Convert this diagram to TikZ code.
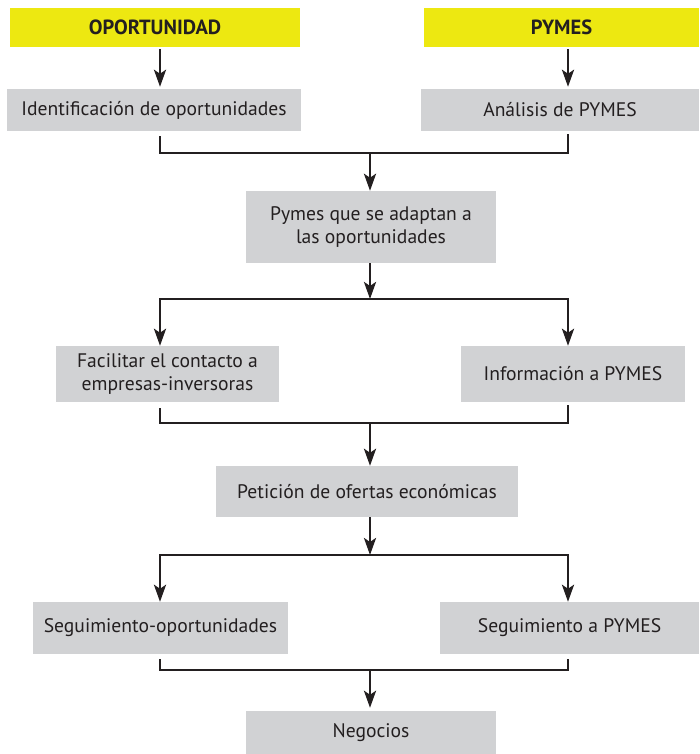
\documentclass[tikz,border=0pt]{standalone}
\usepackage{fontspec}
\setmainfont{PT Sans}
\usetikzlibrary{arrows.meta,positioning}
\definecolor{flowyellow}{RGB}{237,232,17}
\definecolor{flowgray}{RGB}{209,210,212}
\definecolor{flowink}{RGB}{35,31,32}

\begin{document}
\begin{tikzpicture}[x=1pt,y=-1pt,
    stepbox/.style={fill=flowgray,text=flowink,inner sep=0pt,align=center,
      font=\fontsize{19.6}{22.5}\selectfont},
    headbox/.style={fill=flowyellow,text=flowink,inner sep=0pt,
      font=\fontsize{20.5}{22}\selectfont\bfseries},
    link/.style={draw=flowink,line width=2.8pt},
    flow/.style={link,-{Stealth[length=17pt,width=12pt,inset=4pt]}}]
  \useasboundingbox (0,0) rectangle (699,754);
  \coordinate (L) at (160,0);
  \coordinate (R) at (568,0);

  \node[headbox,minimum width=290pt,minimum height=39pt] (oport) at (155,27.5) {OPORTUNIDAD};
  \node[headbox,minimum width=275pt,minimum height=39pt] (pymes) at (561.5,27.5) {PYMES};
  \node[stepbox,minimum width=294pt,minimum height=42pt] (ident) at (154,110) {Identificación de oportunidades};
  \node[stepbox,minimum width=278pt,minimum height=42pt] (anal) at (560,110) {Análisis de PYMES};
  \node[stepbox,minimum width=250pt,minimum height=72pt] (adapt) at (371,227) {Pymes que se adaptan a\\las oportunidades};
  \node[stepbox,minimum width=223pt,minimum height=56pt] (facil) at (167.5,374) {Facilitar el contacto a\\empresas-inversoras};
  \node[stepbox,minimum width=224pt,minimum height=56pt] (info) at (573,374) {Información a PYMES};
  \node[stepbox,minimum width=302pt,minimum height=51pt] (pet) at (367,491.5) {Petición de ofertas económicas};
  \node[stepbox,minimum width=255pt,minimum height=52pt] (segop) at (160.5,628) {Seguimiento-oportunidades};
  \node[stepbox,minimum width=259pt,minimum height=52pt] (segpy) at (569.5,628) {Seguimiento a PYMES};
  \node[stepbox,minimum width=250pt,minimum height=43pt] (neg) at (371,732.5) {Negocios};

  \coordinate (m1) at (370,153);
  \coordinate (s1) at (370,299);
  \coordinate (m2) at (370,423);
  \coordinate (s2) at (370,555);
  \coordinate (m3) at (370,670);

  \draw[flow,shorten <=2pt,shorten >=2pt] (oport.south -| L) -- (ident.north -| L);
  \draw[flow,shorten <=2pt,shorten >=2pt] (pymes.south -| R) -- (anal.north -| R);

  \draw[link,shorten <=5pt,shorten >=3pt] (ident.south -| L) |- (m1) -| (anal.south -| R);
  \draw[flow] (m1) -- (m1 |- adapt.north);
  \draw[flow] (s1 |- adapt.south) -- (s1);
  \draw[flow] (s1) -| (facil.north -| L);
  \draw[flow] (s1) -| (info.north -| R);

  \draw[link,shorten <=6pt,shorten >=3pt] (facil.south -| L) |- (m2) -| (info.south -| R);
  \draw[flow] (m2) -- (m2 |- pet.north);
  \draw[flow] (s2 |- pet.south) -- (s2);
  \draw[flow] (s2) -| (segop.north -| L);
  \draw[flow] (s2) -| (segpy.north -| R);

  \draw[link,shorten <=5pt,shorten >=5pt] (segop.south -| L) |- (m3) -| (segpy.south -| R);
  \draw[flow,shorten >=3pt] (m3) -- (m3 |- neg.north);
\end{tikzpicture}
\end{document}
